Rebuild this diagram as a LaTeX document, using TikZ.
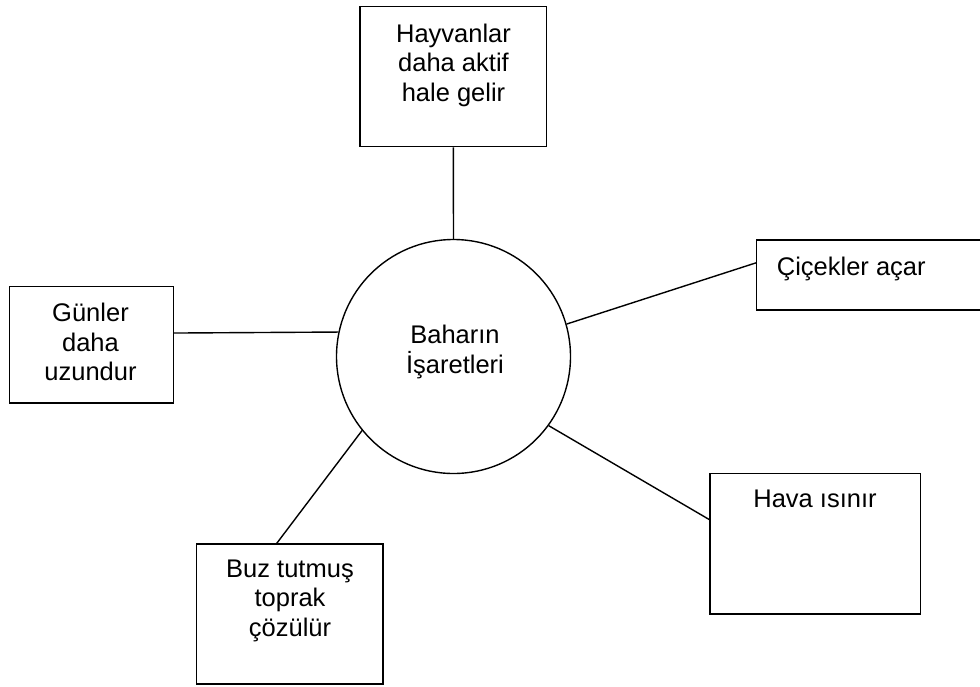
\documentclass[tikz,border=0pt]{standalone}
\usepackage{fontspec}
\setmainfont{Liberation Sans}
\usetikzlibrary{calc}
\begin{document}
\begin{tikzpicture}[x=1pt,y=-1pt,
  box/.style={draw,line width=1.4pt,rectangle,inner sep=0pt},
  hub/.style={draw,line width=1.4pt,circle,inner sep=0pt,minimum size=234pt},
  txt/.style={inner sep=0pt,align=center,font=\fontsize{25.5}{29.7}\selectfont},
  link/.style={line width=1.4pt}]
\useasboundingbox (0,0) rectangle (980,686);
\node[hub] (c) at (453.5,356.5) {};
\node[box,minimum width=186.7pt,minimum height=140pt] (hb) at (453.3,76.7) {};
\node[box,minimum width=238.3pt,minimum height=70pt] (cb) at (875.8,275) {};
\node[box,minimum width=164pt,minimum height=116.3pt] (gb) at (91.3,344.8) {};
\node[box,minimum width=210.7pt,minimum height=140.7pt] (vb) at (815.3,543.7) {};
\node[box,minimum width=186.3pt,minimum height=140pt] (bb) at (289.9,614) {};
\node[txt] (ct) at (455,352) {Baharın\\İşaretleri};
\node[txt] (ht) at (453.5,65.3) {Hayvanlar\\daha aktif\\hale gelir};
\node[txt,anchor=base west] (cht) at (776.7,275) {Çiçekler açar};
\node[txt] (gt) at (90.5,342) {Günler\\daha\\uzundur};
\node[txt,anchor=base] (vt) at (815,507.7) {Hava ısınır};
\node[txt] (bt) at (290,600.7) {Buz tutmuş\\toprak\\çözülür};
\draw[link] (c.90) -- (hb.south);
\draw[link] (c.168.6) -- ($(gb.north east)!0.40!(gb.south east)$);
\draw[link] (c.16.9) -- ($(cb.north west)!0.33!(cb.south west)$);
\draw[link] (c.-36.7) -- ($(vb.north west)!0.33!(vb.south west)$);
\draw[link] (c.-141.2) -- ($(bb.north west)!0.43!(bb.north east)$);
\end{tikzpicture}
\end{document}
